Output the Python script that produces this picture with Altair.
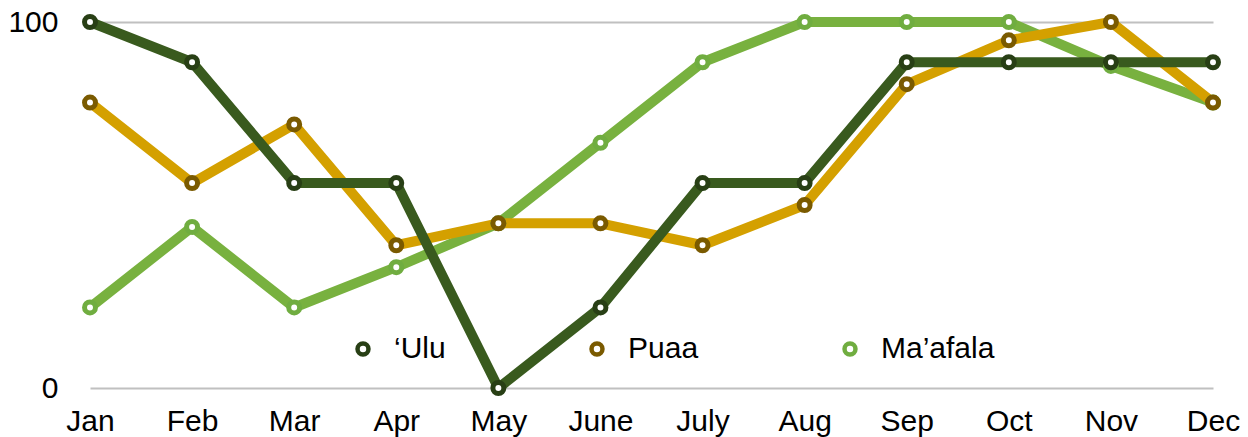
import altair as alt
import pandas as pd

months = ["Jan", "Feb", "Mar", "Apr", "May", "June", "July", "Aug", "Sep", "Oct", "Nov", "Dec"]
series_names = ["\u2018Ulu", "Puaa", "Ma\u2019afala"]
ulu = [100, 89, 56, 56, 0, 22, 56, 56, 89, 89, 89, 89]
puaa = [78, 56, 72, 39, 45, 45, 39, 50, 83, 95, 100, 78]
maafala = [22, 44, 22, 33, 45, 67, 89, 100, 100, 100, 88, 78]
line_colors = ["#395a1e", "#d4a000", "#78b13f"]
marker_colors = ["#283f15", "#7a5a00", "#70ad40"]

# draw order bottom -> top: Ma'afala, Puaa, 'Ulu
rows = []
for name, vals in [(series_names[2], maafala), (series_names[1], puaa), (series_names[0], ulu)]:
    for m, v in zip(months, vals):
        rows.append({"month": m, "value": v, "series": name})
df = pd.DataFrame(rows)

FONT = "Liberation Sans"

x_enc = alt.X("month:N", sort=months,
              scale=alt.Scale(type="point", padding=0),
              axis=alt.Axis(title=None, domain=False, ticks=False, grid=False,
                            labelFontSize=30, labelFont=FONT, labelColor="black",
                            labelPadding=18, labelAngle=0))
y_enc = alt.Y("value:Q", scale=alt.Scale(domain=[0, 100], nice=False, zero=True),
              axis=alt.Axis(title=None, domain=False, ticks=False, values=[0, 100],
                            grid=True, gridColor="#c0c0c0", gridWidth=2,
                            labelFontSize=30, labelFont=FONT, labelColor="black",
                            labelPadding=32))

color_scale = alt.Scale(domain=series_names, range=line_colors)
stroke_scale = alt.Scale(domain=series_names, range=marker_colors)

line_layers = []
for s in [series_names[2], series_names[1], series_names[0]]:
    line_layers.append(
        alt.Chart(df).transform_filter(alt.datum.series == s)
        .mark_line(strokeWidth=10, strokeJoin="round", strokeCap="butt")
        .encode(x=x_enc, y=y_enc,
                color=alt.Color("series:N", scale=color_scale, legend=None))
    )

points = alt.Chart(df).mark_point(
    shape="circle", size=120, strokeWidth=5, fill="white", filled=False, opacity=1, fillOpacity=1
).encode(
    x=x_enc, y=y_enc,
    stroke=alt.Stroke("series:N", scale=stroke_scale,
                      legend=alt.Legend(title=None, orient="none", legendX=258, legendY=312,
                                        direction="horizontal", columns=3, columnPadding=136,
                                        labelFontSize=30, labelFont=FONT, labelColor="black",
                                        symbolType="circle", symbolSize=120, symbolStrokeWidth=4.5,
                                        symbolFillColor="white", labelOffset=16, padding=0,
                                        labelLimit=300)),
    order=alt.Order("idx:Q"),
).transform_window(idx="row_number()")

chart = alt.layer(*line_layers, points).resolve_scale(
    color="independent", stroke="independent"
).resolve_legend(color="independent", stroke="independent").properties(
    width=1123, height=366,
    autosize=alt.AutoSizeParams(type="none"),
    padding={"left": 90, "top": 22, "right": 35, "bottom": 49},
    background="white",
).configure_view(stroke=None)

chart.save("out.html", embed_options={"renderer": "svg", "actions": False})
